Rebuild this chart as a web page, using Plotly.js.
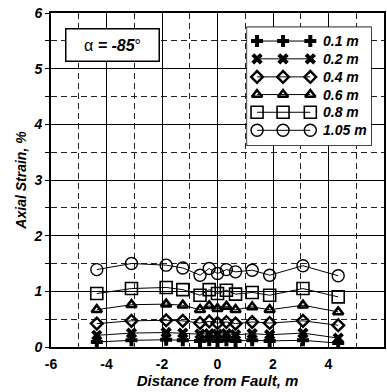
<!DOCTYPE html>
<html><head><meta charset="utf-8">
<script src="https://cdn.plot.ly/plotly-3.0.1.min.js"></script>
<style>html,body{margin:0;padding:0;background:#fff}#chart{width:387px;height:392px}</style>
</head><body><div id="chart"></div>
<script>
const xPos = [-4.35, -3.1, -1.85, -1.25, -0.63, -0.3, 0, 0.32, 0.65, 1.25, 1.88, 3.08, 4.35];
const seriesNames = ["0.1 m", "0.2 m", "0.4 m", "0.6 m", "0.8 m", "1.05 m"];
const s01 = [0.09, 0.12, 0.13, 0.12, 0.11, 0.12, 0.11, 0.12, 0.11, 0.12, 0.11, 0.12, 0.07];
const s02 = [0.21, 0.25, 0.26, 0.25, 0.23, 0.24, 0.23, 0.24, 0.22, 0.24, 0.22, 0.25, 0.16];
const s04 = [0.42, 0.47, 0.48, 0.47, 0.43, 0.46, 0.43, 0.45, 0.42, 0.45, 0.43, 0.47, 0.39];
const s06 = [0.67, 0.76, 0.77, 0.75, 0.67, 0.74, 0.69, 0.73, 0.67, 0.72, 0.67, 0.75, 0.63];
const s08 = [0.96, 1.05, 1.07, 1.03, 0.93, 1.03, 0.96, 1.02, 0.95, 0.98, 0.93, 1.05, 0.90];
const s105 = [1.39, 1.50, 1.47, 1.42, 1.29, 1.41, 1.32, 1.39, 1.35, 1.38, 1.29, 1.46, 1.28];
const xTicks = [-6, -4, -2, 0, 2, 4, 6];
const yTicks = [0, 1, 2, 3, 4, 5, 6];

const allSeries = [s01, s02, s04, s06, s08, s105];
const markerStyles = [
  {symbol: "cross", size: 10, color: "#000", line: {width: 0}},
  {symbol: "x", size: 10, color: "#000", line: {width: 0}},
  {symbol: "diamond-open", size: 9, color: "#000", line: {width: 2.4, color: "#000"}},
  {symbol: "triangle-up-open", size: 9, color: "#000", line: {width: 2.6, color: "#000"}},
  {symbol: "square-open", size: 12, color: "#000", line: {width: 1.6, color: "#000"}},
  {symbol: "circle-open", size: 12, color: "#000", line: {width: 1.4, color: "#000"}}
];

const traces = allSeries.map((ys, i) => ({
  x: xPos, y: ys, type: "scatter", mode: "lines+markers", name: seriesNames[i],
  line: {color: "#000", width: 1}, marker: markerStyles[i], showlegend: false,
  cliponaxis: false
}));

// custom legend (three markers per entry, like the original)
const legX = [0.08, 0.29, 0.51];
const legY = [0.884, 0.733, 0.58, 0.43, 0.28, 0.127];
seriesNames.forEach((n, i) => {
  traces.push({
    x: legX, y: legX.map(() => legY[i]), xaxis: "x2", yaxis: "y2",
    type: "scatter", mode: "lines+markers", line: {color: "#000", width: 1},
    marker: markerStyles[i], showlegend: false, hoverinfo: "skip"
  });
});

const fontFam = "Liberation Sans, Arial, Helvetica, sans-serif";
const annotations = seriesNames.map((n, i) => ({
  xref: "x2", yref: "y2", x: 0.6, y: legY[i], xanchor: "left", yanchor: "middle",
  text: "<b><i>" + n + "</i></b>", showarrow: false,
  font: {family: fontFam, size: 14, color: "#000"}
}));
annotations.push({
  xref: "paper", yref: "paper", x: 0.042, y: 0.955, xanchor: "left", yanchor: "top",
  text: "α <b><i>= -85</i></b>°",
  showarrow: false, bgcolor: "#fff", bordercolor: "#000", borderwidth: 1.5,
  width: 90, height: 29, align: "center", valign: "middle",
  font: {family: fontFam, size: 16, color: "#000"}
});

const dashGrid = "6px,4px";
const layout = {
  width: 387, height: 392,
  margin: {l: 51, r: 3, t: 13, b: 45},
  paper_bgcolor: "#fff", plot_bgcolor: "#fff",
  showlegend: false,
  font: {family: fontFam, color: "#000"},
  xaxis: {
    range: [-6, 6], tickvals: xTicks, ticktext: xTicks.map(v => "<b>" + v + "</b>"),
    showgrid: true, gridcolor: "#000", gridwidth: 1,
    minor: {dtick: 1, tick0: 0, showgrid: true, gridcolor: "#222", griddash: dashGrid, gridwidth: 1, ticks: ""},
    zeroline: false, showline: true, linecolor: "#000", linewidth: 2, mirror: true,
    ticks: "", ticklabelstandoff: 3, tickfont: {family: fontFam, size: 14, color: "#000"},
    title: {text: "<b><i>Distance from Fault, m</i></b>", standoff: 1,
      font: {family: fontFam, size: 15, color: "#000"}}
  },
  yaxis: {
    range: [0, 6], tickvals: yTicks, ticktext: yTicks.map(v => "<b><i>" + v + "</i></b>"),
    showgrid: true, gridcolor: "#000", gridwidth: 1,
    minor: {dtick: 0.5, tick0: 0, showgrid: true, gridcolor: "#222", griddash: dashGrid, gridwidth: 1, ticks: "outside", ticklen: 4, tickcolor: "#000", tickwidth: 1},
    zeroline: false, showline: true, linecolor: "#000", linewidth: 2, mirror: true,
    ticks: "outside", ticklen: 4, tickcolor: "#000", tickwidth: 1,
    tickfont: {family: fontFam, size: 14, color: "#000"},
    title: {text: "<b><i>Axial Strain, %</i></b>", standoff: 4,
      font: {family: fontFam, size: 14, color: "#000"}}
  },
  xaxis2: {domain: [0.589, 0.961], range: [0, 1], anchor: "y2", visible: false, fixedrange: true},
  yaxis2: {domain: [0.604, 0.957], range: [0, 1], anchor: "x2", visible: false, fixedrange: true},
  shapes: [{
    type: "rect", xref: "paper", yref: "paper", x0: 0.589, x1: 0.961, y0: 0.604, y1: 0.957,
    fillcolor: "#fff", line: {color: "#000", width: 1.5}, layer: "between"
  }],
  annotations: annotations
};

Plotly.newPlot("chart", traces, layout, {displayModeBar: false, staticPlot: true});
</script></body></html>
